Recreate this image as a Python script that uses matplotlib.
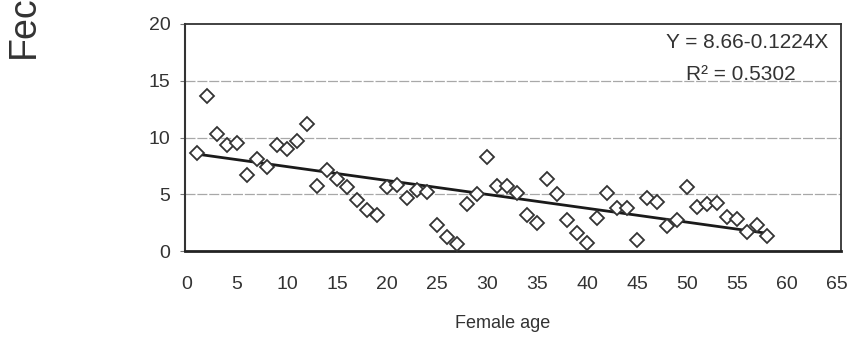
import matplotlib
matplotlib.use("Agg")
import matplotlib.pyplot as plt
import numpy as np

plt.rcParams['font.family'] = ['Liberation Sans', 'DejaVu Sans']

# Data
age = list(range(1, 59))
fecundity = [8.6, 13.7, 10.3, 9.3, 9.5, 6.7, 8.1, 7.4, 9.3, 9.0,
             9.7, 11.2, 5.7, 7.1, 6.3, 5.6, 4.5, 3.6, 3.2, 5.6,
             5.8, 4.7, 5.4, 5.2, 2.3, 1.2, 0.6, 4.1, 5.0, 8.3,
             5.7, 5.7, 5.1, 3.2, 2.5, 6.3, 5.0, 2.7, 1.6, 0.7,
             2.9, 5.1, 3.8, 3.8, 1.0, 4.7, 4.3, 2.2, 2.7, 5.6,
             3.9, 4.1, 4.2, 3.0, 2.8, 1.7, 2.3, 1.3]
intercept = 8.66
slope = -0.1224
r2 = 0.5302
x_ticks = list(range(0, 66, 5))
y_ticks = [0, 5, 10, 15, 20]

W, H = 853, 340
fig = plt.figure(figsize=(W / 100, H / 100), dpi=100)
ax = fig.add_axes([185 / W, (H - 251) / H, (841 - 185) / W, (251 - 24) / H])

txt = '#333333'

for y in [5, 10, 15]:
    ax.axhline(y, color='#a8a8a8', lw=0.9, ls=(0, (8, 1.5)), zorder=1)

ax.plot(age, fecundity, ls='none', marker='D', markersize=7.4,
        markerfacecolor='white', markeredgecolor='#333333',
        markeredgewidth=1.3, zorder=3)

xs = np.array([min(age), max(age)])
ax.plot(xs, intercept + slope * xs, color='#1a1a1a', lw=2.0, zorder=2)

ax.set_xlim(-0.2, 65.4)
ax.set_ylim(0, 20)
ax.set_xticks(x_ticks)
ax.set_yticks(y_ticks)
ax.tick_params(axis='x', length=0, pad=18, labelsize=14, labelcolor=txt)
ax.tick_params(axis='y', length=3.6, width=0.8, color='#777777', pad=7,
               labelsize=14, labelcolor=txt)

for side in ['top', 'right']:
    ax.spines[side].set_color('#333333')
    ax.spines[side].set_linewidth(1.3)
ax.spines['left'].set_color('#333333')
ax.spines['left'].set_linewidth(1.5)
ax.spines['bottom'].set_color('#222222')
ax.spines['bottom'].set_linewidth(2.0)

ax.text(828 / W, (H - 43) / H, 'Y = 8.66-0.1224X', transform=fig.transFigure,
        ha='right', va='center', fontsize=15, color=txt)
ax.text(741 / W, (H - 75) / H, 'R² = %.4f' % r2, transform=fig.transFigure,
        ha='center', va='center', fontsize=15, color=txt)

fig.text(503 / W, (H - 323) / H, 'Female age', ha='center', va='center',
         fontsize=13, color=txt)
fig.text(24 / W, (H - 58) / H, 'Fecundity', rotation=90, ha='center',
         va='bottom', fontsize=27, color=txt)

fig.savefig('out.png', dpi=100)
